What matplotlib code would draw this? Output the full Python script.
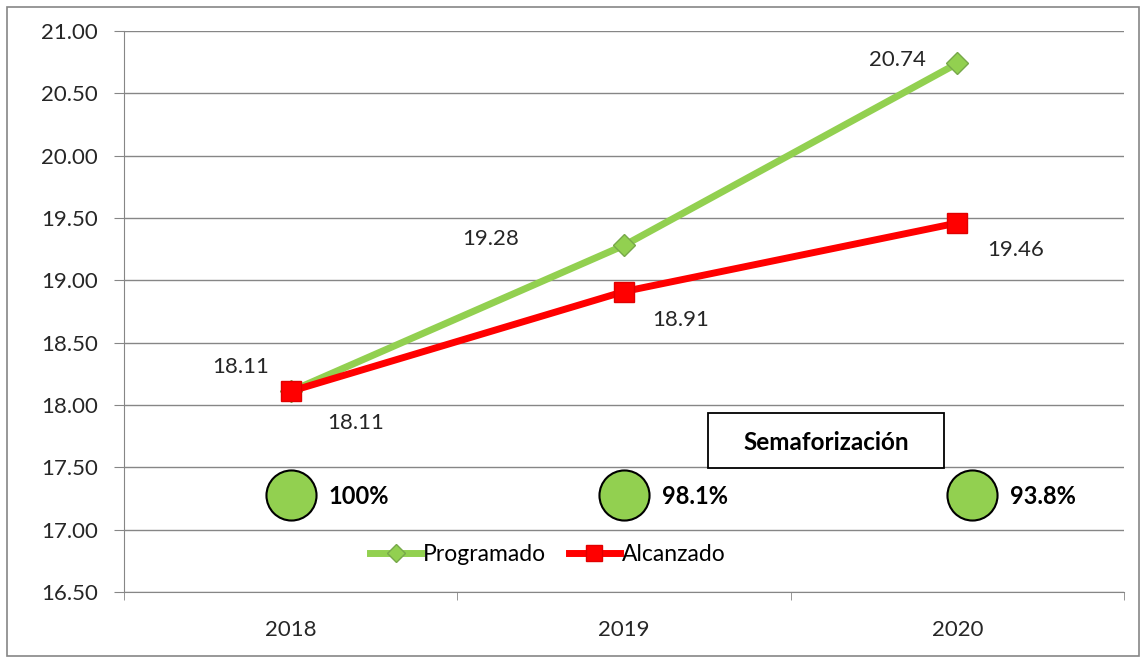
import matplotlib.pyplot as plt
from matplotlib.patches import Rectangle

# Datos
anios = ['2018', '2019', '2020']
programado = [18.11, 19.28, 20.74]
alcanzado = [18.11, 18.91, 19.46]
semaforo = ['100%', '98.1%', '93.8%']

plt.rcParams['font.family'] = ['Lato', 'DejaVu Sans']

fig = plt.figure(figsize=(11.46, 6.63), dpi=100)
ax = fig.add_axes([124 / 1146, 1 - 592 / 663, 1000 / 1146, 561 / 663])

gris = '#868686'
texto = '#262626'
x = list(range(len(anios)))

ax.plot(x, programado, color='#92D050', lw=5, marker='D', ms=11,
        mfc='#92D050', mec='#77A84A', mew=1, label='Programado', zorder=3)
ax.plot(x, alcanzado, color='#FF0000', lw=5, marker='s', ms=15,
        mfc='#FF0000', mec='#E00000', label='Alcanzado', zorder=4)

# Etiquetas de datos
desp_prog = [(-50, 24), (-133, 6), (-60, 3)]
desp_alc = [(65, -32), (57, -28), (58, -27)]
for i in x:
    ax.annotate(f'{programado[i]:.2f}', (i, programado[i]), xytext=desp_prog[i],
                textcoords='offset pixels', ha='center', va='center',
                fontsize=16, color=texto)
    ax.annotate(f'{alcanzado[i]:.2f}', (i, alcanzado[i]), xytext=desp_alc[i],
                textcoords='offset pixels', ha='center', va='center',
                fontsize=16, color=texto)

# Semaforizacion
pos_sem = [0, 1, 2.045]
for i, txt in enumerate(semaforo):
    ax.scatter(pos_sem[i], 17.28, s=1300, color='#92D050', edgecolor='black',
               lw=1.5, zorder=5)
    ax.annotate(txt, (pos_sem[i], 17.27), xytext=(38, 0), textcoords='offset pixels',
                ha='left', va='center', fontsize=17, fontweight='bold', color='black')

ax.add_patch(Rectangle((1.252, 17.495), 0.708, 0.441, fill=True, facecolor='white',
                       edgecolor='black', lw=1.3, zorder=5))
ax.text(1.606, 17.70, 'Semaforización', ha='center', va='center', fontsize=17.5,
        fontweight='bold', zorder=6)

ax.set_xlim(-0.5, 2.5)
ax.set_ylim(16.5, 21.0)
ax.set_yticks([16.5 + 0.5 * k for k in range(10)])
ax.set_yticklabels([f'{16.5 + 0.5 * k:.2f}' for k in range(10)])
ax.set_xticks(x)
ax.set_xticklabels(anios)
ax.set_xticks([-0.5, 0.5, 1.5, 2.5], minor=True)
ax.tick_params(axis='x', which='major', length=0, pad=20, labelsize=16, labelcolor=texto)
ax.tick_params(axis='x', which='minor', length=6, color=gris, direction='out')
ax.tick_params(axis='y', length=7, color=gris, labelsize=16, labelcolor=texto, pad=12)
ax.grid(axis='y', color=gris, lw=1)
ax.set_axisbelow(True)
for s in ['top', 'right']:
    ax.spines[s].set_visible(False)
for s in ['left', 'bottom']:
    ax.spines[s].set_color(gris)

ax.legend(loc='center', bbox_to_anchor=(0.424, 0.066), ncol=2, frameon=False,
          fontsize=16.5, handlelength=2.2, handletextpad=0.1, columnspacing=1.0,
          markerscale=0.8)

fig.patches.append(Rectangle((7 / 1146, 7 / 663), 1132 / 1146, 649 / 663,
                             transform=fig.transFigure, fill=False,
                             edgecolor=gris, lw=1.2))

fig.savefig('out.png', dpi=100)
